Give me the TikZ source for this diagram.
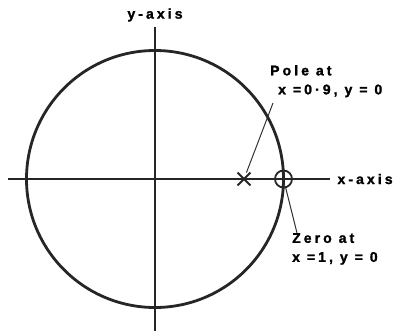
\documentclass[tikz,border=0pt]{standalone}
\usepackage{fontspec}
\usetikzlibrary{shapes.misc}
\newfontfamily\lblfont{Liberation Sans}[LetterSpace=22, FakeBold=1.5]

\begin{document}
\begin{tikzpicture}[x=1pt, y=-1pt, font=\lblfont\bfseries\fontsize{14}{19}\selectfont]
        \tikzset{
            axisline/.style={line width=1.8pt, draw=black!85},
            unitcircle/.style={line width=2.8pt, draw=black!85},
            marker/.style={line width=1.8pt, draw=black!85, inner sep=0pt},
            leader/.style={line width=1pt, draw=black!80},
            caption/.style={align=left, inner sep=0pt, anchor=north west}
        }
        \useasboundingbox (0,0) rectangle (395,331);

        \coordinate (origin) at (155,179);
        \coordinate (xleft) at (8,179);
        \coordinate (xright) at (330,179);
        \coordinate (ytop) at (155,27);
        \coordinate (ybottom) at (155,331);

        \draw[unitcircle] (origin) circle[radius=128.5];
        \draw[axisline] (xleft) -- (xright);
        \draw[axisline] (ytop) -- (ybottom);

        \node (ylabel) at (155,15) {y-axis};
        \node[anchor=west] (xlabel) at (334,179) {x-axis};

        % pole and zero on the real axis
        \node[marker, cross out, minimum size=11pt] (pole) at (244,179) {};
        \node[marker, circle, minimum size=17pt] (zero) at (283.5,179) {};
        \draw[marker] (zero.north) -- (zero.south);

        \node[caption] (polelbl) at (270,65) {Pole at\\\hspace*{8pt}x =0·9, y = 0};
        \node[caption] (zerolbl) at (292,233) {Zero at\\x =1, y = 0};

        \coordinate (poletail) at (273,103);
        \coordinate (zerotail) at (297,233);
        \draw[leader] (poletail) -- (pole);
        \draw[leader] (zero) -- (zerotail);
    \end{tikzpicture}
\end{document}
